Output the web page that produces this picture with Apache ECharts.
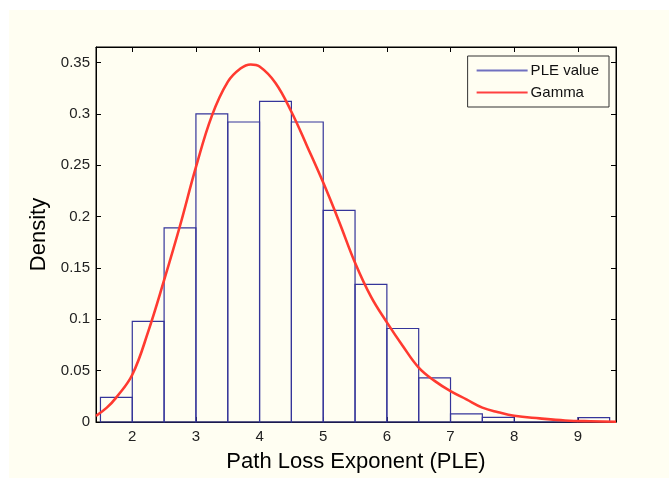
<!DOCTYPE html>
<html>
<head>
<meta charset="utf-8">
<script src="https://cdn.jsdelivr.net/npm/echarts@6/dist/echarts.min.js"></script>
<style>
  html, body { margin: 0; padding: 0; background: #ffffff; }
  #frame { position: absolute; left: 9px; top: 10px; width: 660px; height: 468px; background: #fffef2; }
  #chart { position: absolute; left: 0; top: 0; width: 669px; height: 478px; }
</style>
</head>
<body>
<div id="frame"></div>
<div id="chart"></div>
<script>
// histogram bins (left edges, width 0.5) and density
const binEdges = [1.5, 2, 2.5, 3, 3.5, 4, 4.5, 5, 5.5, 6, 6.5, 7, 7.5, 8, 8.5, 9];
const binWidth = 0.5;
const density = [0.024, 0.098, 0.189, 0.300, 0.292, 0.312, 0.292, 0.206, 0.134, 0.091, 0.043, 0.008, 0.0045, 0, 0, 0.0043];

// fitted gamma curve
const gammaX = [1.43, 1.6, 1.75, 2.0, 2.25, 2.5, 2.75, 3.0, 3.25, 3.5, 3.7, 3.86, 4.0, 4.25, 4.5, 4.75, 5.0, 5.25, 5.5, 5.75, 6.0, 6.25, 6.5, 6.75, 7.0, 7.25, 7.5, 7.75, 8.0, 8.4, 8.8, 9.2, 9.6];
const gammaY = [0.006, 0.014, 0.024, 0.046, 0.088, 0.138, 0.191, 0.248, 0.298, 0.331, 0.344, 0.348, 0.346, 0.330, 0.302, 0.268, 0.233, 0.195, 0.155, 0.122, 0.097, 0.074, 0.053, 0.040, 0.030, 0.022, 0.014, 0.0095, 0.006, 0.0035, 0.0015, 0.0007, 0.0003];

const xTicks = [2, 3, 4, 5, 6, 7, 8, 9];
const yTicks = [0, 0.05, 0.1, 0.15, 0.2, 0.25, 0.3, 0.35];

const cream = "#fffef2";
const font = "Liberation Sans, Arial, sans-serif";

const histData = binEdges.map((e, i) => [e, e + binWidth, density[i]]);
const gammaData = gammaX.map((x, i) => [x, gammaY[i]]);

const chart = echarts.init(document.getElementById("chart"));

const xBase = {
  type: "value",
  min: 1.43,
  max: 9.6,
  splitLine: { show: false },
  axisLine: { show: true, onZero: false, lineStyle: { color: "#000", width: 1 } },
};
const yBase = {
  type: "value",
  min: 0,
  max: 0.365,
  splitLine: { show: false },
  axisLine: { show: true, onZero: false, lineStyle: { color: "#000", width: 1 } },
};

chart.setOption({
  animation: false,
  textStyle: { fontFamily: font },
  grid: {
    left: 96,
    right: 53,
    top: 47,
    bottom: 50,
    show: true,
    backgroundColor: cream,
    borderColor: "#000",
    borderWidth: 1,
  },
  legend: {
    right: 60,
    top: 56,
    orient: "vertical",
    backgroundColor: cream,
    borderColor: "#333",
    borderWidth: 1,
    padding: [7, 10, 7, 9],
    itemGap: 7,
    itemWidth: 51,
    itemHeight: 2,
    textStyle: { fontSize: 15, color: "#111", fontFamily: font, padding: [0, 0, 0, -2] },
    data: [
      { name: "PLE value", icon: "rect", itemStyle: { color: "#7070c0" } },
      { name: "Gamma", icon: "rect", itemStyle: { color: "#ff4040" } },
    ],
  },
  xAxis: [
    Object.assign({}, xBase, {
      position: "bottom",
      name: "Path Loss Exponent (PLE)",
      nameLocation: "middle",
      nameGap: 29,
      nameTextStyle: { fontSize: 22, color: "#000", fontFamily: font },
      axisTick: { inside: true, length: 5, customValues: xTicks, lineStyle: { color: "#000" } },
      axisLabel: { customValues: xTicks, margin: 7, fontSize: 15, color: "#222", fontFamily: font },
    }),
    Object.assign({}, xBase, {
      position: "top",
      axisTick: { inside: true, length: 5, customValues: xTicks, lineStyle: { color: "#000" } },
      axisLabel: { show: false },
    }),
  ],
  yAxis: [
    Object.assign({}, yBase, {
      position: "left",
      name: "Density",
      nameLocation: "middle",
      nameGap: 42,
      nameTextStyle: { fontSize: 22, color: "#000", fontFamily: font },
      axisTick: { inside: true, length: 5, customValues: yTicks, lineStyle: { color: "#000" } },
      axisLabel: { customValues: yTicks, margin: 6, fontSize: 15, color: "#222", fontFamily: font },
    }),
    Object.assign({}, yBase, {
      position: "right",
      axisTick: { inside: true, length: 5, customValues: yTicks, lineStyle: { color: "#000" } },
      axisLabel: { show: false },
    }),
  ],
  series: [
    {
      name: "PLE value",
      type: "custom",
      xAxisIndex: 0,
      yAxisIndex: 0,
      renderItem: function (params, api) {
        const p0 = api.coord([api.value(0), 0]);
        const p1 = api.coord([api.value(1), api.value(2)]);
        return {
          type: "rect",
          shape: { x: p0[0], y: p1[1], width: p1[0] - p0[0], height: p0[1] - p1[1] },
          style: { fill: "none", stroke: "#35359a", lineWidth: 1.2 },
        };
      },
      encode: { x: [0, 1], y: 2 },
      itemStyle: { color: "#7070c0" },
      data: histData,
      z: 2,
    },
    {
      name: "Gamma",
      type: "line",
      xAxisIndex: 0,
      yAxisIndex: 0,
      smooth: 0.4,
      symbol: "none",
      lineStyle: { color: "#ff3a30", width: 2.6 },
      itemStyle: { color: "#ff4040" },
      data: gammaData,
      z: 3,
    },
  ],
});
</script>
</body>
</html>
